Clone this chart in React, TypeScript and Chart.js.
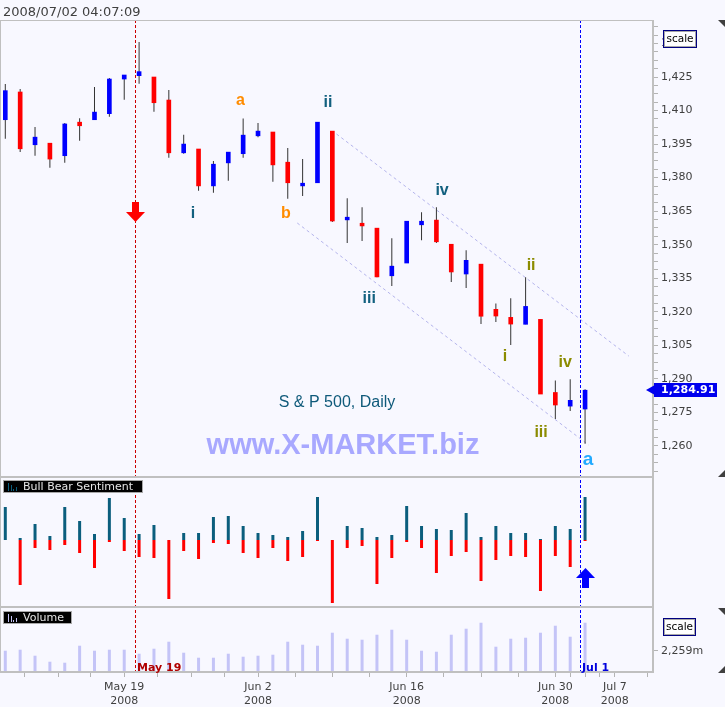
import React, { useEffect, useRef } from 'react';
import { Chart, registerables } from 'chart.js';

Chart.register(...registerables);

// ---------- data ----------
const timestamp = '2008/07/02 04:07:09';
const chartTitle = 'S & P 500, Daily';
const watermark = 'www.X-MARKET.biz';

const tradingDays = [
  'May 7', 'May 8', 'May 9', 'May 12', 'May 13', 'May 14', 'May 15', 'May 16', 'May 19', 'May 20',
  'May 21', 'May 22', 'May 23', 'May 27', 'May 28', 'May 29', 'May 30', 'Jun 2', 'Jun 3', 'Jun 4',
  'Jun 5', 'Jun 6', 'Jun 9', 'Jun 10', 'Jun 11', 'Jun 12', 'Jun 13', 'Jun 16', 'Jun 17', 'Jun 18',
  'Jun 19', 'Jun 20', 'Jun 23', 'Jun 24', 'Jun 25', 'Jun 26', 'Jun 27', 'Jun 30', 'Jul 1', 'Jul 2',
  'Jul 3', 'Jul 7',
];

const open = [
  1405.9, 1418.3, 1394.7, 1395.4, 1389.8, 1404.8, 1405.9, 1408.6, 1424.1, 1425.6,
  1425.0, 1414.7, 1391.1, 1392.8, 1376.3, 1386.6, 1390.7, 1398.7, 1400.4, 1386.9,
  1376.3, 1377.7, 1400.8, 1361.1, 1359.6, 1357.4, 1336.1, 1341.8, 1358.9, 1361.0,
  1350.2, 1336.9, 1341.3, 1321.1, 1317.5, 1314.4, 1316.6, 1283.9, 1277.8, 1276.5,
];
const high = [
  1421.9, 1419.6, 1402.6, 1395.4, 1404.4, 1406.6, 1420.5, 1424.6, 1425.9, 1440.7,
  1425.0, 1419.2, 1399.2, 1392.8, 1387.4, 1391.4, 1406.5, 1404.4, 1400.4, 1393.2,
  1388.3, 1404.8, 1400.8, 1370.8, 1366.8, 1357.4, 1352.9, 1360.5, 1364.5, 1366.8,
  1350.2, 1347.5, 1341.3, 1323.7, 1326.0, 1335.4, 1316.6, 1289.3, 1289.8, 1285.3,
];
const low = [
  1397.4, 1391.5, 1389.8, 1384.4, 1386.6, 1396.5, 1405.9, 1407.2, 1414.8, 1422.0,
  1409.5, 1388.9, 1390.7, 1374.1, 1373.2, 1378.6, 1388.9, 1398.1, 1378.1, 1370.5,
  1371.8, 1377.7, 1360.1, 1350.8, 1351.7, 1335.4, 1331.5, 1341.8, 1352.0, 1350.8,
  1333.3, 1330.6, 1314.5, 1315.4, 1305.1, 1314.4, 1283.2, 1272.0, 1275.6, 1261.0,
];
const close = [
  1418.9, 1392.9, 1398.1, 1388.3, 1404.0, 1403.2, 1409.3, 1424.1, 1425.9, 1427.4,
  1413.5, 1391.1, 1395.0, 1376.3, 1386.0, 1391.4, 1399.0, 1400.8, 1385.7, 1377.7,
  1377.5, 1404.8, 1360.6, 1362.3, 1358.4, 1335.6, 1340.4, 1360.5, 1360.5, 1351.3,
  1337.8, 1343.0, 1318.0, 1318.1, 1314.5, 1322.4, 1283.2, 1278.3, 1280.4, 1284.91,
];

const bullSentiment = [
  33, 2, 16, 4, 33, 19, 6, 42, 22, 6, 15, 0, 7, 7, 23, 24, 14, 7, 5, 3,
  9, 43, 0, 14, 12, 3, 5, 34, 14, 11, 10, 27, 3, 14, 7, 7, 1, 14, 11, 43,
];
const bearSentiment = [
  0, 45, 8, 10, 5, 13, 28, 2, 11, 17, 18, 59, 11, 19, 3, 4, 13, 18, 8, 21,
  17, 1, 63, 8, 6, 44, 18, 2, 8, 33, 16, 12, 41, 20, 16, 17, 51, 16, 27, 1,
];
const volumeMillions = [
  2258, 2364, 1728, 1092, 986, 2788, 2258, 2364, 2364, 1940,
  2470, 3212, 2046, 1516, 1516, 1940, 1622, 1728, 1834, 3212,
  2894, 2788, 4166, 3530, 3424, 3954, 4484, 3424, 2258, 2152,
  3954, 4590, 5226, 2682, 3530, 3636, 4166, 4908, 3742, 5226,
];

const priceTickLabels = [1260, 1275, 1290, 1305, 1320, 1335, 1350, 1365, 1380, 1395, 1410, 1425, 1440];
const volumeTickLabels = [2259];
const xMajorTickDates = ['May 19', 'Jun 2', 'Jun 16', 'Jun 30', 'Jul 7'];
const xMajorTickYear = '2008';
const xMinorTicks = [1.3, 3.55, 5.75, 10.25, 12.5, 14.75, 19.5, 22, 24.5, 29.5, 32, 34.5, 38, 39, 40, 43.2];

// channel lines (index, price)
const upperChannel = [{ x: 22.28, y: 1399.5 }, { x: 41.94, y: 1300.2 }];
const lowerChannel = [{ x: 19.64, y: 1359.7 }, { x: 39.24, y: 1260.4 }];

// wave labels (index, baseline price, group)
const waveLabels = [
  { t: 'a', x: 15.82, p: 1412.5, g: 'orange' },
  { t: 'b', x: 18.87, p: 1361.8, g: 'orange' },
  { t: 'i', x: 12.63, p: 1362.1, g: 'teal' },
  { t: 'ii', x: 21.71, p: 1411.5, g: 'teal' },
  { t: 'iii', x: 24.48, p: 1323.8, g: 'teal' },
  { t: 'iv', x: 29.38, p: 1372.2, g: 'teal' },
  { t: 'i', x: 33.62, p: 1298.2, g: 'olive' },
  { t: 'ii', x: 35.37, p: 1338.7, g: 'olive' },
  { t: 'iii', x: 36.04, p: 1263.9, g: 'olive' },
  { t: 'iv', x: 37.67, p: 1295.5, g: 'olive' },
  { t: 'a', x: 39.2, p: 1251.5, g: 'cyan' },
];

// signals: vertical dashed marker + arrow
const signals = [
  { x: 8.72, date: 'May 19', dir: 'down', arrowX: 8.72, arrowTip: 1360.1, arrowAxis: 'y', kind: 'sell' },
  { x: 38.66, date: 'Jul 1', dir: 'up', arrowX: 39, arrowTip: -28, arrowAxis: 'ySent', kind: 'buy' },
];

// ---------- styles ----------
const BG = '#f8f8ff';
const COL = {
  up: '#0000ff',
  down: '#ff0000',
  wick: '#333333',
  bull: '#0b5e7d',
  bear: '#ff0000',
  vol: '#c4c4f7',
  channel: '#b4b4ec',
  border: '#c0c0c0',
  axisText: '#404040',
};
const WAVE_COLORS: Record<string, string> = {
  orange: '#ff8c00',
  teal: '#12607f',
  olive: '#8b8b00',
  cyan: '#22aaff',
};
const SIGNAL_COLORS: Record<string, { line: string; text: string; arrow: string }> = {
  sell: { line: '#cc0000', text: '#b00000', arrow: '#ff0000' },
  buy: { line: '#0000ff', text: '#0000dd', arrow: '#0000ff' },
};

const X_MIN = -0.3565;
const X_MAX = 43.57;
const Y_MIN = 1246.1;
const Y_MAX = 1450.5;
const SENT_MIN = -67;
const SENT_MAX = 63;
const VOL_MAX = 6893;

const fmtNum = (v: number) => v.toLocaleString('en-US');

function tri(ctx: any, pts: number[][]) {
  ctx.beginPath();
  ctx.moveTo(pts[0][0], pts[0][1]);
  ctx.lineTo(pts[1][0], pts[1][1]);
  ctx.lineTo(pts[2][0], pts[2][1]);
  ctx.closePath();
  ctx.fill();
}

function scaleButton(ctx: any, x: number, y: number, w: number, h: number) {
  ctx.fillStyle = '#ffffff';
  ctx.fillRect(x, y, w, h);
  ctx.lineWidth = 1;
  ctx.strokeStyle = '#000080';
  ctx.strokeRect(x + 0.5, y + 0.5, w - 1, h - 1);
  ctx.strokeStyle = '#a8a8a8';
  ctx.strokeRect(x + 1.5, y + 1.5, w - 3, h - 3);
  ctx.fillStyle = '#000000';
  ctx.font = '10.5px "DejaVu Sans"';
  ctx.textAlign = 'center';
  ctx.textBaseline = 'middle';
  ctx.fillText('scale', x + w / 2, y + h / 2 + 0.5);
}

function panelTitle(ctx: any, x: number, y: number, w: number, h: number, text: string, iconColor: string) {
  ctx.fillStyle = '#000000';
  ctx.fillRect(x, y, w, h);
  ctx.strokeStyle = '#a8a8a8';
  ctx.lineWidth = 1;
  ctx.strokeRect(x + 0.5, y + 0.5, w - 1, h - 1);
  ctx.fillStyle = iconColor;
  const base = y + h - 2;
  const bars = [[5, 8], [8, 6], [10, 2], [13, 4]];
  for (const [dx, bh] of bars) ctx.fillRect(x + dx, base - bh, 1, bh);
  ctx.fillStyle = '#e4e4e4';
  ctx.font = '11px "DejaVu Sans"';
  ctx.textAlign = 'left';
  ctx.textBaseline = 'middle';
  ctx.fillText(text, x + 20, y + h / 2 + 0.5);
}

const overlayPlugin = {
  id: 'overlay',
  beforeDraw(chart: any) {
    const { ctx, width, height } = chart;
    ctx.save();
    ctx.fillStyle = BG;
    ctx.fillRect(0, 0, width, height);
    ctx.restore();
  },
  beforeDatasetsDraw(chart: any) {
    const { ctx, chartArea: a, scales } = chart;
    const xs = scales.x;
    ctx.save();
    // watermark + chart title
    ctx.textAlign = 'center';
    ctx.textBaseline = 'middle';
    ctx.font = 'bold 29px "Liberation Sans", Arial, sans-serif';
    ctx.fillStyle = '#a8a8ff';
    ctx.fillText(watermark, 343, 446);
    ctx.font = '16px "Liberation Sans", Arial, sans-serif';
    ctx.fillStyle = '#0f5a7a';
    ctx.fillText(chartTitle, 337, 403);
    // signal dashed lines
    for (const s of signals) {
      const px = Math.round(xs.getPixelForValue(s.x)) + 0.5;
      ctx.strokeStyle = SIGNAL_COLORS[s.kind].line;
      ctx.lineWidth = 1;
      ctx.setLineDash([3, 2]);
      ctx.beginPath();
      ctx.moveTo(px, a.top);
      ctx.lineTo(px, a.bottom);
      ctx.stroke();
    }
    ctx.setLineDash([]);
    ctx.restore();
  },
  afterDatasetsDraw(chart: any) {
    const { ctx, scales } = chart;
    const xs = scales.x;
    const ym = scales.y;
    ctx.save();
    ctx.textAlign = 'center';
    ctx.textBaseline = 'alphabetic';
    for (const w of waveLabels) {
      ctx.font = w.g === 'cyan' ? 'bold 19px "Liberation Sans", Arial' : 'bold 16px "Liberation Sans", Arial';
      ctx.fillStyle = WAVE_COLORS[w.g];
      ctx.fillText(w.t, xs.getPixelForValue(w.x), ym.getPixelForValue(w.p));
    }
    // arrows
    for (const s of signals) {
      const sc = scales[s.arrowAxis];
      const cx = Math.round(xs.getPixelForValue(s.arrowX)) + 0.5;
      const tip = Math.round(sc.getPixelForValue(s.arrowTip));
      ctx.fillStyle = SIGNAL_COLORS[s.kind].arrow;
      if (s.dir === 'down') {
        ctx.fillRect(cx - 3.5, tip - 20, 7, 10.5);
        tri(ctx, [[cx - 9.5, tip - 10], [cx + 9.5, tip - 10], [cx, tip]]);
      } else {
        ctx.fillRect(cx - 3.5, tip + 9.5, 7, 10.5);
        tri(ctx, [[cx - 9.5, tip + 10], [cx + 9.5, tip + 10], [cx, tip]]);
      }
    }
    ctx.restore();
  },
  afterDraw(chart: any) {
    const { ctx, chartArea: a, scales } = chart;
    const xs = scales.x;
    const ym = scales.y;
    const ysent = scales.ySent;
    ctx.save();
    const R = Math.round(a.right);
    const T = Math.round(a.top);
    const B = Math.round(a.bottom);
    // borders
    ctx.fillStyle = COL.border;
    ctx.fillRect(0, T, R + 1, 1);
    ctx.fillRect(0, T, 1, B - T);
    ctx.fillRect(R - 1, T, 2, B - T + 1);
    for (const yy of [ym.bottom, ysent.bottom, a.bottom]) {
      ctx.fillRect(0, Math.round(yy) - 1, R + 1, 2);
    }
    // signal date labels
    ctx.font = 'bold 11px "DejaVu Sans"';
    ctx.textAlign = 'left';
    ctx.textBaseline = 'alphabetic';
    for (const s of signals) {
      const px = Math.round(xs.getPixelForValue(s.x));
      ctx.fillStyle = SIGNAL_COLORS[s.kind].text;
      ctx.fillText(s.date, px + 2, B - 1.5);
    }
    // timestamp
    ctx.fillStyle = COL.axisText;
    ctx.font = '13px "DejaVu Sans"';
    ctx.fillText(timestamp, 3, 16);
    // price tag
    const last = close[close.length - 1];
    const py = Math.round(ym.getPixelForValue(last));
    ctx.fillStyle = '#0000ee';
    ctx.fillRect(R + 1, py - 7, 63, 14);
    tri(ctx, [[R - 7, py], [R + 1, py - 4.5], [R + 1, py + 4.5]]);
    ctx.fillStyle = '#ffffff';
    ctx.font = 'bold 11px "DejaVu Sans"';
    ctx.textBaseline = 'middle';
    ctx.fillText(last.toLocaleString('en-US', { minimumFractionDigits: 2, maximumFractionDigits: 2 }), R + 8, py + 0.5);
    // scale buttons
    scaleButton(ctx, R + 10, T + 10, 34, 18);
    scaleButton(ctx, R + 10, Math.round(ysent.bottom) + 11, 33, 18);
    // panel titles
    panelTitle(ctx, 3, Math.round(ym.bottom) + 3, 140, 13, 'Bull Bear Sentiment', COL.bull);
    panelTitle(ctx, 3, Math.round(ysent.bottom) + 4, 69, 13, 'Volume', COL.vol);
    // corner handles
    ctx.fillStyle = '#404040';
    const W = chart.width;
    tri(ctx, [[W - 7, T], [W, T], [W, T + 7]]);
    const mb = Math.round(ym.bottom);
    tri(ctx, [[W - 7, mb], [W, mb], [W, mb - 7]]);
    const vt = Math.round(ysent.bottom) + 1;
    tri(ctx, [[W - 7, vt], [W, vt], [W, vt + 7]]);
    tri(ctx, [[W - 7, B + 1], [W, B + 1], [W, B - 6]]);
    ctx.restore();
  },
};

function buildConfig(): any {
  const idx = close.map((_, i) => i);
  const bodyColors = idx.map((i) => (close[i] >= open[i] ? COL.up : COL.down));
  const majorIdx = xMajorTickDates.map((d) => tradingDays.indexOf(d));
  const xTicks = [...majorIdx, ...xMinorTicks].sort((p, q) => p - q);

  const priceStep = priceTickLabels[1] - priceTickLabels[0];
  const priceTicks: number[] = [];
  for (let v = priceTickLabels[0] - priceStep; v <= priceTickLabels[priceTickLabels.length - 1] + priceStep; v += priceStep / 4) {
    if (v >= Y_MIN && v <= Y_MAX) priceTicks.push(v);
  }
  const isMajorPrice = (v: number) => priceTickLabels.some((p) => Math.abs(p - v) < 1e-6);

  const tickFont = { family: 'DejaVu Sans', size: 11 };
  const yWidth = (s: any) => { s.width = 72; };

  return {
    type: 'bar',
    data: {
      datasets: [
        {
          type: 'bar', label: 'body', xAxisID: 'x', yAxisID: 'y', order: 0,
          data: idx.map((i) => ({ x: i, y: [open[i], close[i]] })),
          backgroundColor: bodyColors, barThickness: 4, grouped: false, borderWidth: 0,
        },
        {
          type: 'bar', label: 'wick', xAxisID: 'x', yAxisID: 'y', order: 1,
          data: idx.map((i) => ({ x: i, y: [low[i], high[i]] })),
          backgroundColor: COL.wick, barThickness: 1, grouped: false, borderWidth: 0, inflateAmount: 0,
        },
        {
          type: 'line', label: 'upper', xAxisID: 'x', yAxisID: 'y', order: 2,
          data: upperChannel, borderColor: COL.channel, borderWidth: 1, borderDash: [3, 3], pointRadius: 0, fill: false,
        },
        {
          type: 'line', label: 'lower', xAxisID: 'x', yAxisID: 'y', order: 2,
          data: lowerChannel, borderColor: COL.channel, borderWidth: 1, borderDash: [3, 3], pointRadius: 0, fill: false,
        },
        {
          type: 'bar', label: 'bull', xAxisID: 'x', yAxisID: 'ySent',
          data: idx.map((i) => ({ x: i, y: [0, bullSentiment[i]] })),
          backgroundColor: COL.bull, barThickness: 3, grouped: false, borderWidth: 0, inflateAmount: 0,
        },
        {
          type: 'bar', label: 'bear', xAxisID: 'x', yAxisID: 'ySent',
          data: idx.map((i) => ({ x: i, y: [-bearSentiment[i], 0] })),
          backgroundColor: COL.bear, barThickness: 3, grouped: false, borderWidth: 0, inflateAmount: 0,
        },
        {
          type: 'bar', label: 'volume', xAxisID: 'x', yAxisID: 'yVol',
          data: idx.map((i) => ({ x: i, y: volumeMillions[i] })),
          backgroundColor: COL.vol, barThickness: 3, grouped: false, borderWidth: 0, inflateAmount: 0,
        },
      ],
    },
    options: {
      responsive: false,
      animation: false,
      devicePixelRatio: 1,
      events: [],
      layout: { padding: { top: 20, left: 0, right: 0, bottom: 0 } },
      plugins: { legend: { display: false }, tooltip: { enabled: false } },
      scales: {
        x: {
          type: 'linear', position: 'bottom', min: X_MIN, max: X_MAX, offset: false,
          grid: { offset: false, drawOnChartArea: false, drawTicks: true, tickLength: 5, color: '#b4b4b4' },
          border: { display: false },
          ticks: {
            autoSkip: false, maxRotation: 0, minRotation: 0, padding: 4, font: tickFont, color: COL.axisText,
            callback: (v: number) => {
              const k = majorIdx.findIndex((m) => Math.abs(m - v) < 1e-6);
              return k >= 0 ? [xMajorTickDates[k], xMajorTickYear] : '';
            },
          },
          afterBuildTicks: (s: any) => { s.ticks = xTicks.map((v) => ({ value: v })); },
          afterFit: (s: any) => { s.height = 35; },
        },
        y: {
          type: 'linear', position: 'right', stack: 'panels', stackWeight: 457, min: Y_MIN, max: Y_MAX,
          grid: { drawOnChartArea: false, drawTicks: true, tickLength: 5, color: '#b4b4b4' },
          border: { display: false },
          ticks: {
            autoSkip: false, padding: 3, font: tickFont, color: COL.axisText,
            callback: (v: number) => (isMajorPrice(v) ? fmtNum(v) : ''),
          },
          afterBuildTicks: (s: any) => { s.ticks = priceTicks.map((v) => ({ value: v })); },
          afterFit: yWidth,
        },
        ySent: {
          type: 'linear', position: 'right', stack: 'panels', stackWeight: 130, min: SENT_MIN, max: SENT_MAX,
          grid: { display: false },
          border: { display: false },
          ticks: { display: false },
          afterFit: yWidth,
        },
        yVol: {
          type: 'linear', position: 'right', stack: 'panels', stackWeight: 65, min: 0, max: VOL_MAX,
          grid: { drawOnChartArea: false, drawTicks: true, tickLength: 5, color: '#b4b4b4' },
          border: { display: false },
          ticks: {
            autoSkip: false, padding: 3, font: tickFont, color: COL.axisText,
            callback: (v: number) => fmtNum(v) + 'm',
          },
          afterBuildTicks: (s: any) => { s.ticks = volumeTickLabels.map((v) => ({ value: v })); },
          afterFit: yWidth,
        },
      },
    },
    plugins: [overlayPlugin],
  };
}

export default function App() {
  const ref = useRef<HTMLCanvasElement>(null);
  useEffect(() => {
    document.body.style.margin = '0';
    document.body.style.background = BG;
    const canvas = ref.current;
    if (!canvas) return;
    const chart = new Chart(canvas, buildConfig());
    return () => chart.destroy();
  }, []);
  return (
    <div style={{ width: 725, height: 707, background: BG }}>
      <canvas ref={ref} width={725} height={707} style={{ display: 'block', width: 725, height: 707 }} />
    </div>
  );
}
